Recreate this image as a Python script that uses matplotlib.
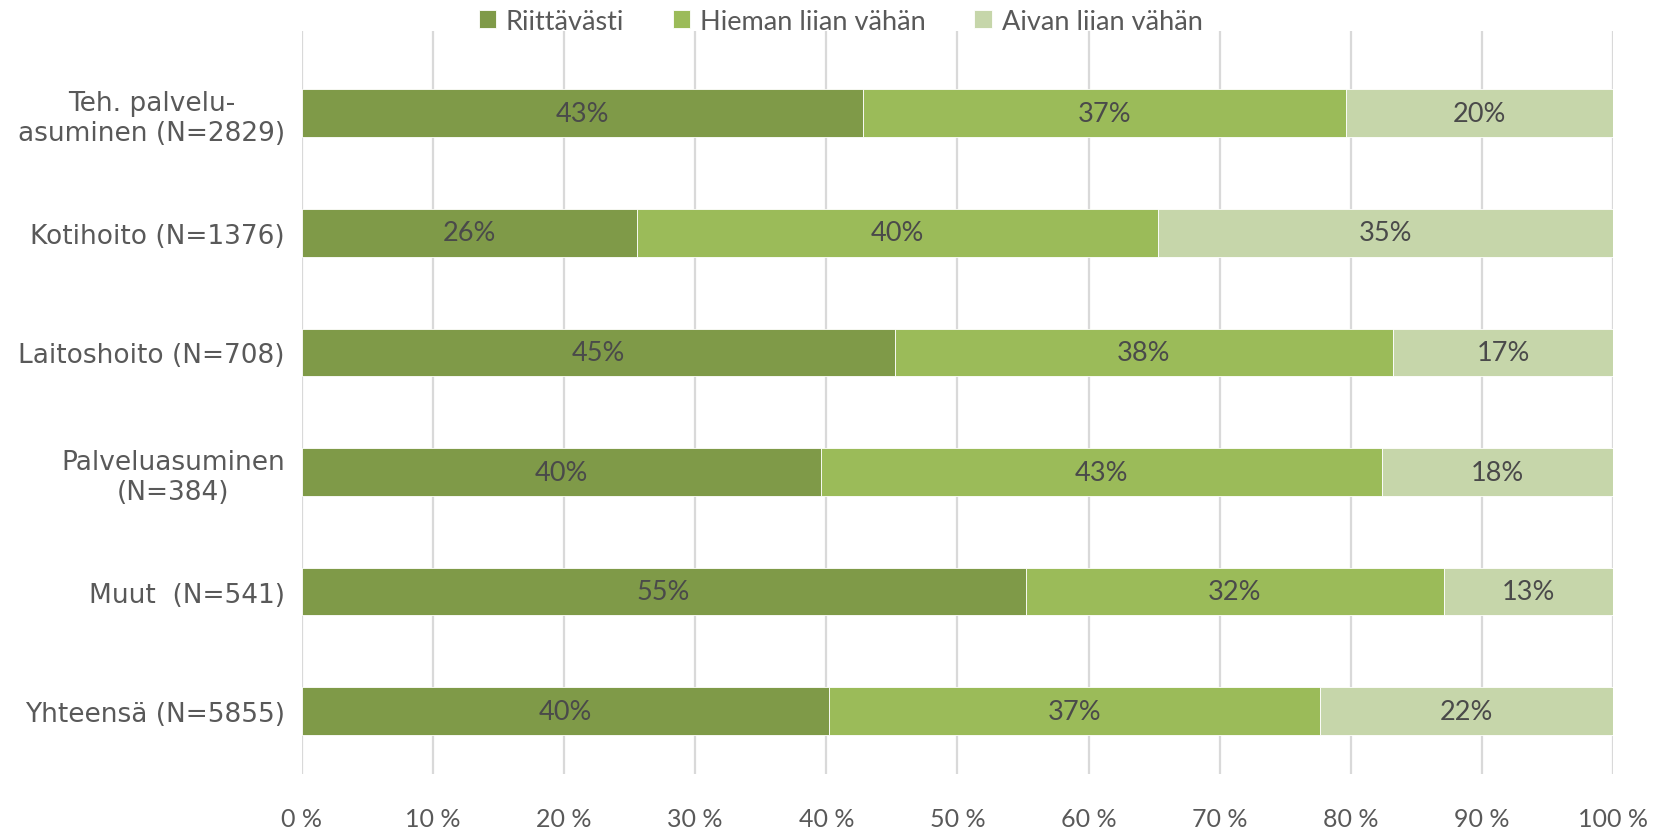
import numpy as np
import matplotlib
matplotlib.use('Agg')
import matplotlib.pyplot as plt

# Data (percent of respondents)
categories = ['Teh. palvelu-\nasuminen (N=2829)', 'Kotihoito (N=1376)', 'Laitoshoito (N=708)',
              'Palveluasuminen\n(N=384)', 'Muut  (N=541)', 'Yhteensä (N=5855)']
riittavasti = [42.8, 25.6, 45.2, 39.6, 55.2, 40.2]
hieman = [36.8, 39.7, 38.0, 42.8, 31.9, 37.4]
aivan = [100 - a - b for a, b in zip(riittavasti, hieman)]
seriesNames = ['Riittävästi', 'Hieman liian vähän', 'Aivan liian vähän']
xticks = [0, 10, 20, 30, 40, 50, 60, 70, 80, 90, 100]

colors = ['#7F9A48', '#9BBB59', '#C6D6AA']
textColor = '#595959'
labelColor = '#4A4A4A'

plt.rcParams['font.family'] = ['Lato', 'DejaVu Sans']

fig = plt.figure(figsize=(16.71, 8.28), dpi=100)
ax = fig.add_axes([0.1805, 0.064, 0.785, 0.8975])

y = np.arange(len(categories))
left = np.zeros(len(categories))
for vals, col, name in zip([riittavasti, hieman, aivan], colors, seriesNames):
    bars = ax.barh(y, vals, left=left, height=0.4, color=col, label=name,
                   edgecolor='white', linewidth=0.6, zorder=3)
    for b, v in zip(bars, vals):
        ax.text(b.get_x() + b.get_width() / 2, b.get_y() + b.get_height() / 2,
                '{:.0f}%'.format(v), ha='center', va='center',
                fontsize=19.5, color=labelColor, zorder=4)
    left += np.array(vals)

ax.set_xlim(0, 100)
ax.set_ylim(5.526, -0.69)
ax.set_xticks(xticks)
ax.set_xticklabels(['{} %'.format(t) for t in xticks], fontsize=18, color=textColor)
ax.set_yticks(y)
ax.set_yticklabels(categories, fontsize=19, color=textColor, multialignment='center',
                   family=['DejaVu Sans'])
ax.tick_params(axis='both', length=0)
ax.tick_params(axis='x', pad=24)
ax.tick_params(axis='y', pad=12)
ax.grid(axis='x', color='#D9D9D9', linewidth=1.6, zorder=0)
for s in ax.spines.values():
    s.set_visible(False)

handles, labels = ax.get_legend_handles_labels()
leg = fig.legend(handles=handles, labels=labels, loc='center', bbox_to_anchor=(0.503, 1 - 22 / 828),
                 ncol=3, frameon=False, fontsize=19.5,
                 handlelength=0.65, handleheight=0.65,
                 handletextpad=0.35, columnspacing=1.8, labelcolor=textColor)

plt.savefig('out.png', dpi=100)
